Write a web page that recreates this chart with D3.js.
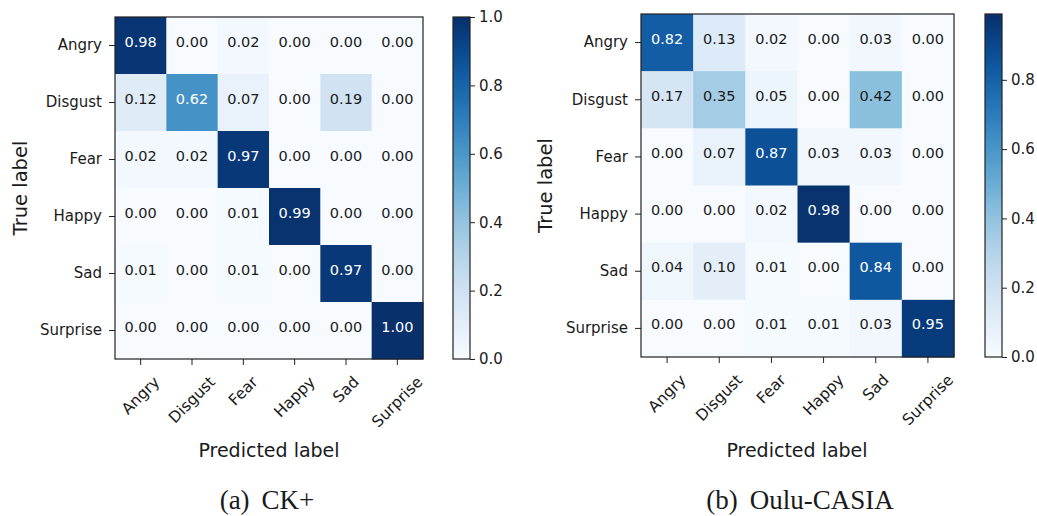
<!DOCTYPE html>
<html>
<head>
<meta charset="utf-8">
<script src="https://cdn.jsdelivr.net/npm/d3@7"></script>
<style>
  html, body { margin: 0; padding: 0; background: #fff; }
  svg { display: block; }
  text { font-family: "DejaVu Sans", sans-serif; fill: #1a1a1a; }
  .caption { font-family: "Liberation Serif", "Times New Roman", serif; }
</style>
</head>
<body>
<svg id="chart" width="1037" height="516"></svg>
<script>
// Emotion classes (rows = true label, columns = predicted label)
const classes = ["Angry", "Disgust", "Fear", "Happy", "Sad", "Surprise"];

// Normalised confusion matrix, CK+
const ckValues = [
  [0.98, 0.00, 0.02, 0.00, 0.00, 0.00],
  [0.12, 0.62, 0.07, 0.00, 0.19, 0.00],
  [0.02, 0.02, 0.97, 0.00, 0.00, 0.00],
  [0.00, 0.00, 0.01, 0.99, 0.00, 0.00],
  [0.01, 0.00, 0.01, 0.00, 0.97, 0.00],
  [0.00, 0.00, 0.00, 0.00, 0.00, 1.00]
];

// Normalised confusion matrix, Oulu-CASIA
const ouluValues = [
  [0.82, 0.13, 0.02, 0.00, 0.03, 0.00],
  [0.17, 0.35, 0.05, 0.00, 0.42, 0.00],
  [0.00, 0.07, 0.87, 0.03, 0.03, 0.00],
  [0.00, 0.00, 0.02, 0.98, 0.00, 0.00],
  [0.04, 0.10, 0.01, 0.00, 0.84, 0.00],
  [0.00, 0.00, 0.01, 0.01, 0.03, 0.95]
];

// Colour-bar tick labels and upper limits
const colorbarTicks = [0.0, 0.2, 0.4, 0.6, 0.8, 1.0];
const ckColorMax = 1.0;
const ouluColorMax = 0.99;

// Sub-figure captions: [tag, dataset name]
const captions = [["(a)", "CK+"], ["(b)", "Oulu-CASIA"]];

const panels = [
  { values: ckValues, vmax: ckColorMax, caption: captions[0],
    mx: [115, 423], my: [17, 359], cx: [453, 470], yTitleX: 27, xTitleX: 269, capX: 267 },
  { values: ouluValues, vmax: ouluColorMax, caption: captions[1],
    mx: [641, 954], my: [14, 357], cx: [985, 1002], yTitleX: 552, xTitleX: 797, capX: 800 }
];

const svg = d3.select("#chart");
svg.append("rect").attr("width", 1037).attr("height", 516).attr("fill", "#fff");

const defs = svg.append("defs");

panels.forEach((p, pi) => {
  const g = svg.append("g");
  const x = d3.scaleBand().domain(classes).range(p.mx).padding(0);
  const y = d3.scaleBand().domain(classes).range(p.my).padding(0);
  const color = d3.scaleSequential(d3.interpolateBlues).domain([0, p.vmax]);
  const thresh = d3.max(p.values.flat()) / 2;

  const cells = [];
  p.values.forEach((row, i) => row.forEach((v, j) => cells.push({ r: classes[i], c: classes[j], v })));

  // heat-map cells
  g.selectAll("rect.cell").data(cells).enter().append("rect")
    .attr("class", "cell")
    .attr("x", d => x(d.c))
    .attr("y", d => y(d.r))
    .attr("width", x.bandwidth() + 0.5)
    .attr("height", y.bandwidth() + 0.5)
    .attr("fill", d => color(d.v));

  // cell annotations
  g.selectAll("text.val").data(cells).enter().append("text")
    .attr("class", "val")
    .attr("x", d => x(d.c) + x.bandwidth() / 2)
    .attr("y", d => y(d.r) + y.bandwidth() / 2 - 4)
    .attr("text-anchor", "middle")
    .attr("dominant-baseline", "central")
    .style("font-size", "14.5px")
    .style("fill", d => d.v > thresh ? "#ffffff" : "#1a1a1a")
    .text(d => d.v.toFixed(2));

  // frame
  g.append("rect")
    .attr("x", p.mx[0]).attr("y", p.my[0])
    .attr("width", p.mx[1] - p.mx[0]).attr("height", p.my[1] - p.my[0])
    .attr("fill", "none").attr("stroke", "#222").attr("stroke-width", 1.2);

  // y axis
  const yAxis = g.append("g").attr("transform", `translate(${p.mx[0]},0)`)
    .call(d3.axisLeft(y).tickSize(6).tickPadding(7));
  yAxis.select(".domain").remove();
  yAxis.selectAll("line").attr("stroke", "#222");
  yAxis.selectAll("text").style("font-size", "15px").style("font-family", "DejaVu Sans").attr("fill", "#1a1a1a");

  // x axis with rotated labels
  const xAxis = g.append("g").attr("transform", `translate(0,${p.my[1]})`)
    .call(d3.axisBottom(x).tickSize(6).tickFormat(""));
  xAxis.select(".domain").remove();
  xAxis.selectAll("line").attr("stroke", "#222");
  const fs = 15.5;
  const y0 = p.my[1] + 14;
  classes.forEach(cls => {
    const t = g.append("text")
      .attr("text-anchor", "middle")
      .attr("dominant-baseline", "central")
      .style("font-size", fs + "px")
      .text(cls);
    const w = t.node().getComputedTextLength();
    const h = fs * 1.16;
    const d = (w + h) / (2 * Math.SQRT2);
    t.attr("transform", `translate(${x(cls) + x.bandwidth() / 2},${y0 + d}) rotate(-45)`);
  });

  // axis titles
  g.append("text")
    .attr("transform", `translate(${p.yTitleX},${(p.my[0] + p.my[1]) / 2}) rotate(-90)`)
    .attr("text-anchor", "middle")
    .style("font-size", "19.5px")
    .text("True label");
  g.append("text")
    .attr("x", p.xTitleX).attr("y", 457)
    .attr("text-anchor", "middle")
    .style("font-size", "19px")
    .text("Predicted label");

  // colour bar
  const gid = "cbar" + pi;
  const grad = defs.append("linearGradient").attr("id", gid)
    .attr("x1", 0).attr("y1", 1).attr("x2", 0).attr("y2", 0);
  d3.range(0, 1.0001, 0.05).forEach(t => {
    grad.append("stop").attr("offset", t).attr("stop-color", color(t * p.vmax));
  });
  g.append("rect")
    .attr("x", p.cx[0]).attr("y", p.my[0])
    .attr("width", p.cx[1] - p.cx[0]).attr("height", p.my[1] - p.my[0])
    .attr("fill", `url(#${gid})`)
    .attr("stroke", "#222").attr("stroke-width", 1.2);
  const cScale = d3.scaleLinear().domain([0, p.vmax]).range([p.my[1], p.my[0]]);
  const cAxis = g.append("g").attr("transform", `translate(${p.cx[1]},0)`)
    .call(d3.axisRight(cScale).tickValues(colorbarTicks.filter(v => v <= p.vmax + 1e-9))
      .tickFormat(d3.format(".1f")).tickSize(5).tickPadding(4));
  cAxis.select(".domain").remove();
  cAxis.selectAll("line").attr("stroke", "#222");
  cAxis.selectAll("text").style("font-size", "15px").style("font-family", "DejaVu Sans").attr("fill", "#1a1a1a");

  // caption: tag and dataset name separated by a wide gap
  const cap = g.append("text").attr("class", "caption")
    .attr("x", p.capX).attr("y", 509)
    .attr("text-anchor", "middle")
    .style("font-size", "27px")
    .style("font-family", "Liberation Serif");
  cap.append("tspan").text(p.caption[0]);
  cap.append("tspan").attr("dx", 12).text(p.caption[1]);
});
</script>
</body>
</html>
